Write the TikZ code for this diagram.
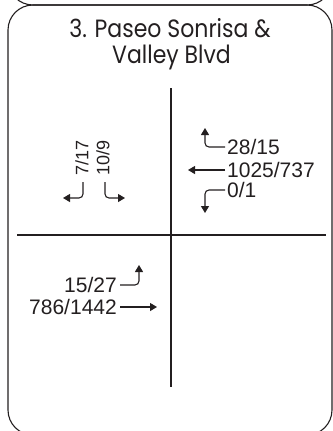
\documentclass[tikz,border=0pt]{standalone}
\usepackage{fontspec}
\setmainfont{Liberation Sans}
\newfontfamily\titlefont[FakeStretch=0.88]{Poppins}
\usetikzlibrary{arrows.meta}
\definecolor{ink}{HTML}{231F20}
\begin{document}
\begin{tikzpicture}[x=1bp,y=-1bp,
  line/.style={line width=1.1bp, draw=ink},
  arr/.style={line width=1.1bp, draw=ink, -{Triangle[length=7bp,width=8bp]}, rounded corners=4bp},
  num/.style={font=\fontsize{21bp}{23bp}\selectfont, text=ink, inner sep=0pt},
  vnum/.style={font=\fontsize{18bp}{20bp}\selectfont, text=ink, inner sep=0pt, rotate=90, anchor=west},
  ttl/.style={font=\titlefont\fontsize{25bp}{26bp}\selectfont, text=ink, inner sep=0pt, anchor=base},
]
\useasboundingbox (0,0) rectangle (333,431);
\clip (0,0) rectangle (333,431);
% panels
\draw[line, rounded corners=25bp] (8,-120) rectangle (332,5);
\draw[line, rounded corners=25bp] (8,5) rectangle (332,435);
% title
\node[ttl] (t1) at (170,37) {3. Paseo Sonrisa \&};
\node[ttl] (t2) at (171.5,63) {Valley Blvd};
% roads
\coordinate (vn) at (171,88);
\coordinate (vs) at (171,387);
\coordinate (hw) at (17,235);
\coordinate (he) at (326,235);
\draw[line] (vn) -- (vs);
\draw[line] (hw) -- (he);
% north approach
\node[vnum] (nl) at (82,176) {7/17};
\node[vnum] (nr) at (103,176) {10/9};
\coordinate (nls) at (83,182);
\coordinate (nlt) at (63,198);
\coordinate (nrs) at (105,182);
\coordinate (nrt) at (125,198);
\draw[arr] (nls) |- (nlt);
\draw[arr] (nrs) |- (nrt);
% east approach
\node[num, anchor=west] (el) at (227,147) {28/15};
\node[num, anchor=west] (et) at (227,170) {1025/737};
\node[num, anchor=west] (er) at (227,190) {0/1};
\coordinate (elt) at (205,128);
\coordinate (ett) at (188,170);
\coordinate (ert) at (205,213);
\draw[arr] ([xshift=-2bp]el.west) -| (elt);
\draw[arr] ([xshift=-2bp]et.west) -- (ett);
\draw[arr] ([xshift=-2bp]er.west) -| (ert);
% west approach
\node[num, anchor=east] (wl) at (117,285) {15/27};
\node[num, anchor=east] (wt) at (117,307) {786/1442};
\coordinate (wlt) at (139,265);
\coordinate (wtt) at (157,307);
\draw[arr] ([xshift=3bp]wl.east) -| (wlt);
\draw[arr] ([xshift=3bp]wt.east) -- (wtt);
\end{tikzpicture}
\end{document}
